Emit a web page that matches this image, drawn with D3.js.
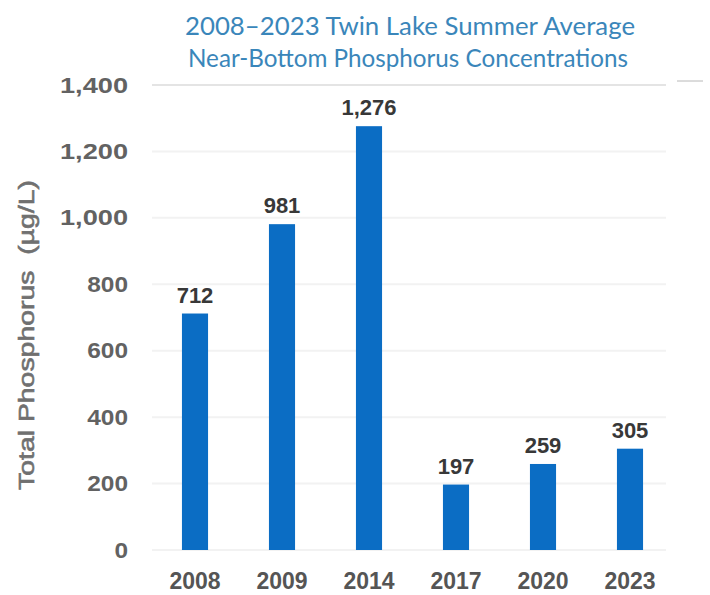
<!DOCTYPE html>
<html>
<head>
<meta charset="utf-8">
<script src="https://cdn.jsdelivr.net/npm/d3@7"></script>
<style>
  html, body { margin: 0; padding: 0; background: #fff; }
  svg { display: block; }
</style>
</head>
<body>
<svg id="chart" width="710" height="595"></svg>
<script>
// Twin Lake near-bottom total phosphorus, summer averages (µg/L)
const years = ["2008", "2009", "2014", "2017", "2020", "2023"];
const phosphorus = [712, 981, 1276, 197, 259, 305];
const yTicks = [0, 200, 400, 600, 800, 1000, 1200, 1400];
const titleLines = ["2008\u20132023 Twin Lake Summer Average", "Near-Bottom Phosphorus Concentrations"];
const yAxisTitle = "Total Phosphorus  (\u00b5g/L)";

const svg = d3.select("#chart");
const fmt = d3.format(",");

const gridLeft = 152, gridRight = 666;
const x = d3.scaleBand().domain(years).range([151.5, 673.5]).paddingInner(0.7).paddingOuter(0.35);
const y = d3.scaleLinear().domain([0, 1400]).range([550, 85]);

// Title
const title = svg.append("g")
  .attr("font-family", "Lato, 'Open Sans', sans-serif")
  .attr("font-weight", 400)
  .attr("font-size", 25)
  .attr("fill", "#3a86ba");
title.append("text").attr("x", 410).attr("y", 35).attr("text-anchor", "middle")
  .attr("textLength", 450).attr("lengthAdjust", "spacingAndGlyphs").text(titleLines[0]);
title.append("text").attr("x", 408).attr("y", 67).attr("text-anchor", "middle")
  .attr("textLength", 440).attr("lengthAdjust", "spacingAndGlyphs").text(titleLines[1]);

// Faint horizontal gridlines
svg.append("g").selectAll("line").data(yTicks).join("line")
  .attr("x1", gridLeft).attr("x2", gridRight)
  .attr("y1", d => y(d)).attr("y2", d => y(d))
  .attr("stroke", d => d === 1400 ? "#e4e4e4" : "#f2f2f2")
  .attr("stroke-width", 2);

// Short rule at the upper right
svg.append("line").attr("x1", 677).attr("x2", 703).attr("y1", 81).attr("y2", 81)
  .attr("stroke", "#b8b8b8").attr("stroke-width", 1);

// Y axis labels
const yAxis = svg.append("g").attr("transform", "translate(128,0)")
  .call(d3.axisLeft(y).tickValues(yTicks).tickFormat(fmt).tickSize(0).tickPadding(0));
yAxis.select(".domain").remove();
yAxis.selectAll("text")
  .attr("font-family", "'Liberation Sans', Arial, sans-serif")
  .attr("font-weight", "bold")
  .attr("font-size", 22)
  .attr("fill", "#626262")
  .attr("textLength", d => fmt(d).length * 13.6)
  .attr("lengthAdjust", "spacingAndGlyphs");

// Y axis title (keeps the double space before the unit)
svg.append("text")
  .attr("transform", "translate(34,335) rotate(-90)")
  .attr("text-anchor", "middle")
  .style("white-space", "pre")
  .attr("font-family", "'Liberation Sans', Arial, sans-serif")
  .attr("font-size", 22)
  .attr("fill", "#707070")
  .attr("stroke", "#707070")
  .attr("stroke-width", 0.6)
  .attr("textLength", 310).attr("lengthAdjust", "spacingAndGlyphs")
  .text(yAxisTitle);

// Bars
const data = years.map((yr, i) => ({ year: yr, value: phosphorus[i] }));
svg.append("g").selectAll("rect").data(data).join("rect")
  .attr("x", d => x(d.year))
  .attr("width", x.bandwidth())
  .attr("y", d => y(d.value))
  .attr("height", d => y(0) - y(d.value))
  .attr("fill", "#0b6dc4");

// Value labels
svg.append("g").selectAll("text").data(data).join("text")
  .attr("x", d => x(d.year) + x.bandwidth() / 2)
  .attr("y", d => y(d.value) - 11)
  .attr("text-anchor", "middle")
  .attr("font-family", "'Liberation Sans', Arial, sans-serif")
  .attr("font-weight", "bold")
  .attr("font-size", 22)
  .attr("fill", "#383838")
  .text(d => fmt(d.value));

// X axis labels
const xAxis = svg.append("g").attr("transform", "translate(0,573)")
  .call(d3.axisBottom(x).tickSize(0).tickPadding(0));
xAxis.select(".domain").remove();
xAxis.selectAll("text")
  .attr("dy", "0.71em")
  .attr("font-family", "'Liberation Sans', Arial, sans-serif")
  .attr("font-weight", "bold")
  .attr("font-size", 23)
  .attr("fill", "#555555");
</script>
</body>
</html>
